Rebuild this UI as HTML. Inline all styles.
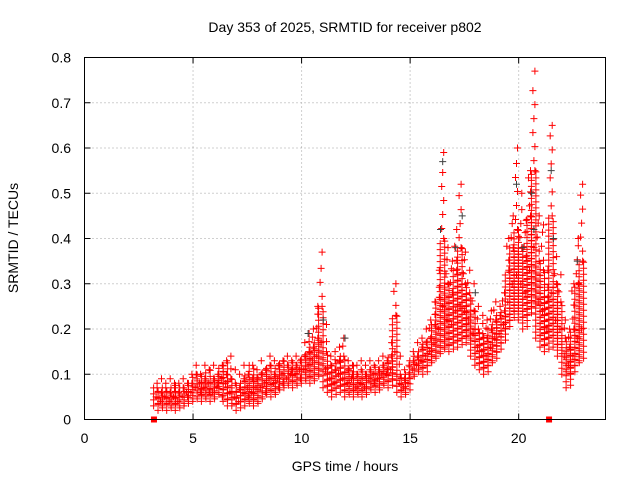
<!DOCTYPE html>
<html><head><meta charset="utf-8"><style>
body{margin:0;background:#fff;}
svg{display:block;font-family:"Liberation Sans",sans-serif;}
</style></head><body>
<svg id="chart" width="640" height="480" viewBox="0 0 640 480">
<rect width="640" height="480" fill="#fff"/>
<g id="grid"></g>
<g id="pts"></g>
<rect x="84.5" y="57.5" width="521" height="362" fill="none" stroke="#000"/>
<g id="ticks"></g>
<text x="345" y="32" text-anchor="middle" font-size="14">Day 353 of 2025, SRMTID for receiver p802</text>
<text x="345" y="471" text-anchor="middle" font-size="14">GPS time / hours</text>
<text x="18" y="238" text-anchor="middle" font-size="14" transform="rotate(-90 18 238)">SRMTID / TECUs</text>
</svg>
<script>
const xTicks=[0,5,10,15,20];
const yTicks=[0,0.1,0.2,0.3,0.4,0.5,0.6,0.7,0.8];
const yTickLabels=["0","0.1","0.2","0.3","0.4","0.5","0.6","0.7","0.8"];
const times=[3.3,3.5,3.7,3.9,4.1,4.3,4.5,4.7,4.9,5.1,5.3,5.5,5.7,5.9,6.1,6.3,6.5,6.7,6.9,7.1,7.3,7.5,7.7,7.9,8.1,8.3,8.5,8.7,8.9,9.1,9.3,9.5,9.7,9.9,10.1,10.3,10.5,10.7,10.9,11.1,11.3,11.5,11.7,11.9,12.1,12.3,12.5,12.7,12.9,13.1,13.3,13.5,13.7,13.9,14.1,14.3,14.5,14.7,14.9,15.1,15.3,15.5,15.7,15.9,16.1,16.3,16.5,16.7,16.9,17.1,17.3,17.5,17.7,17.9,18.1,18.3,18.5,18.7,18.9,19.1,19.3,19.5,19.7,19.9,20.1,20.3,20.5,20.7,20.9,21.1,21.3,21.5,21.7,21.9,22.1,22.3,22.5,22.7,22.9];
const yLow=[.03,.02,.03,.02,.03,.02,.03,.03,.04,.04,.05,.04,.05,.04,.05,.06,.04,.03,.03,.02,.04,.03,.04,.03,.04,.05,.06,.05,.06,.07,.07,.08,.07,.08,.08,.09,.08,.09,.10,.07,.06,.05,.07,.06,.05,.06,.05,.06,.05,.06,.07,.06,.07,.08,.07,.09,.06,.05,.06,.09,.10,.11,.10,.12,.13,.14,.15,.16,.15,.17,.16,.18,.17,.14,.12,.11,.10,.12,.13,.15,.17,.20,.22,.24,.22,.20,.23,.25,.18,.16,.15,.18,.16,.14,.10,.07,.10,.12,.13];
const yMid=[.05,.04,.05,.04,.05,.04,.05,.06,.06,.07,.08,.07,.08,.06,.07,.09,.08,.06,.05,.04,.06,.07,.06,.07,.07,.08,.09,.08,.09,.10,.09,.10,.10,.11,.11,.12,.13,.14,.17,.11,.09,.08,.10,.09,.08,.09,.07,.08,.07,.09,.10,.09,.10,.10,.11,.15,.08,.07,.08,.11,.12,.13,.14,.15,.17,.20,.25,.22,.21,.24,.25,.24,.22,.19,.16,.15,.14,.16,.18,.19,.21,.26,.30,.32,.30,.28,.33,.38,.26,.24,.20,.28,.22,.20,.14,.12,.14,.18,.20];
const yHigh=[.07,.06,.07,.06,.08,.06,.07,.08,.08,.10,.10,.09,.11,.09,.10,.12,.13,.09,.08,.07,.09,.10,.12,.09,.10,.11,.12,.10,.12,.13,.12,.13,.12,.13,.14,.15,.16,.18,.25,.15,.12,.11,.13,.14,.11,.12,.10,.11,.10,.11,.12,.11,.12,.13,.14,.23,.10,.09,.10,.13,.14,.16,.17,.18,.21,.27,.40,.30,.28,.33,.38,.30,.28,.24,.20,.19,.18,.20,.22,.23,.24,.33,.38,.42,.38,.36,.45,.55,.35,.33,.27,.45,.30,.26,.18,.16,.20,.30,.35];
const yPeak=[.08,.09,.08,.09,.07,.08,.09,.05,.10,.12,.06,.12,.06,.12,.08,.05,.10,.14,.11,.10,.12,.05,.09,.11,.13,.06,.14,.13,.07,.08,.14,.11,.14,.09,.17,.19,.20,.25,.37,.21,.14,.15,.16,.18,.13,.10,.12,.13,.12,.13,.08,.13,.14,.11,.17,.30,.14,.11,.12,.15,.17,.18,.20,.22,.26,.33,.59,.38,.35,.42,.52,.37,.33,.30,.25,.23,.22,.24,.26,.25,.28,.40,.45,.60,.50,.44,.55,.77,.45,.43,.33,.65,.36,.32,.22,.20,.30,.40,.52];
const grayTimes=[16.5,17.4,17.1,19.9,20.6,20.7,21.5,21.6,11.0,12.0,16.4,20.2,22.7,18.0,10.3];
const grayVals=[.57,.45,.38,.52,.50,.42,.55,.40,.22,.18,.42,.38,.35,.28,.19];
const markerTimes=[3.2,21.4];
const NS="http://www.w3.org/2000/svg";
const X0=84.5,X1=605.5,Y0=419.5,Y1=57.5;
function xs(t){return X0+(t/24)*(X1-X0);}
function ys(v){return Y0-(v/0.8)*(Y0-Y1);}
const grid=document.getElementById('grid'),ticks=document.getElementById('ticks'),pts=document.getElementById('pts');
function mk(tag,attrs,parent){const e=document.createElementNS(NS,tag);for(const k in attrs)e.setAttribute(k,attrs[k]);parent.appendChild(e);return e;}
xTicks.forEach(t=>{
  const x=xs(t);
  if(t>0){const g=mk('line',{x1:x,x2:x,y1:Y0,y2:Y1,stroke:'#a0a0a0','stroke-dasharray':'1,3'},grid);
  
  }
  mk('line',{x1:x,x2:x,y1:Y0,y2:Y0-6,stroke:'#000'},ticks);
  mk('line',{x1:x,x2:x,y1:Y1,y2:Y1+6,stroke:'#000'},ticks);
  const l=mk('text',{x:x,y:443,'text-anchor':'middle','font-size':14},ticks);
  l.textContent=t;
  
  
});
yTicks.forEach((v,i)=>{
  const y=ys(v);
  if(v>0&&v<0.8){const g=mk('line',{x1:X0,x2:X1,y1:y,y2:y,stroke:'#a0a0a0','stroke-dasharray':'1,3'},grid);
  
  }
  mk('line',{x1:X0,x2:X0+6,y1:y,y2:y,stroke:'#000'},ticks);
  mk('line',{x1:X1,x2:X1-6,y1:y,y2:y,stroke:'#000'},ticks);
  const l=mk('text',{x:71,y:y+5,'text-anchor':'end','font-size':14},ticks);
  l.textContent=yTickLabels[i];
  
  
});
let redD='';
function plusPath(x,y){return `M${(x-3.5).toFixed(1)} ${y.toFixed(1)}h7M${x.toFixed(1)} ${(y-3.5).toFixed(1)}v7`;}
times.forEach((t,i)=>{
  const x=xs(t);
  const yl=ys(yLow[i]),yh=ys(yHigh[i]),ym=ys(yMid[i]),yp=ys(yPeak[i]);
  [-2.5,2].forEach((dx,k)=>{
    for(let y=yl-k*2.5;y>=yh;y-=6){redD+=plusPath(x+dx,y);}
  });
  redD+=plusPath(x,ym);
  redD+=plusPath(x+1,yh);
  if(yp<yh){
    for(let y=yh-10;y>yp+6;y-=14){redD+=plusPath(x+((y|0)%3)-1,y);}
  }
  redD+=plusPath(x+1,yp);
});
const rp=mk('path',{d:redD,stroke:'#ff0000','stroke-width':1,fill:'none'},pts);


grayTimes.forEach((t,i)=>{
  const g=mk('path',{d:plusPath(xs(t),ys(grayVals[i])),stroke:'#404040','stroke-width':1,fill:'none'},pts);
  
  
});
markerTimes.forEach(t=>{
  const r=mk('rect',{x:xs(t)-3,y:Y0-3,width:6,height:6,fill:'#ff0000'},pts);
  
  
});
</script>
</body></html>
